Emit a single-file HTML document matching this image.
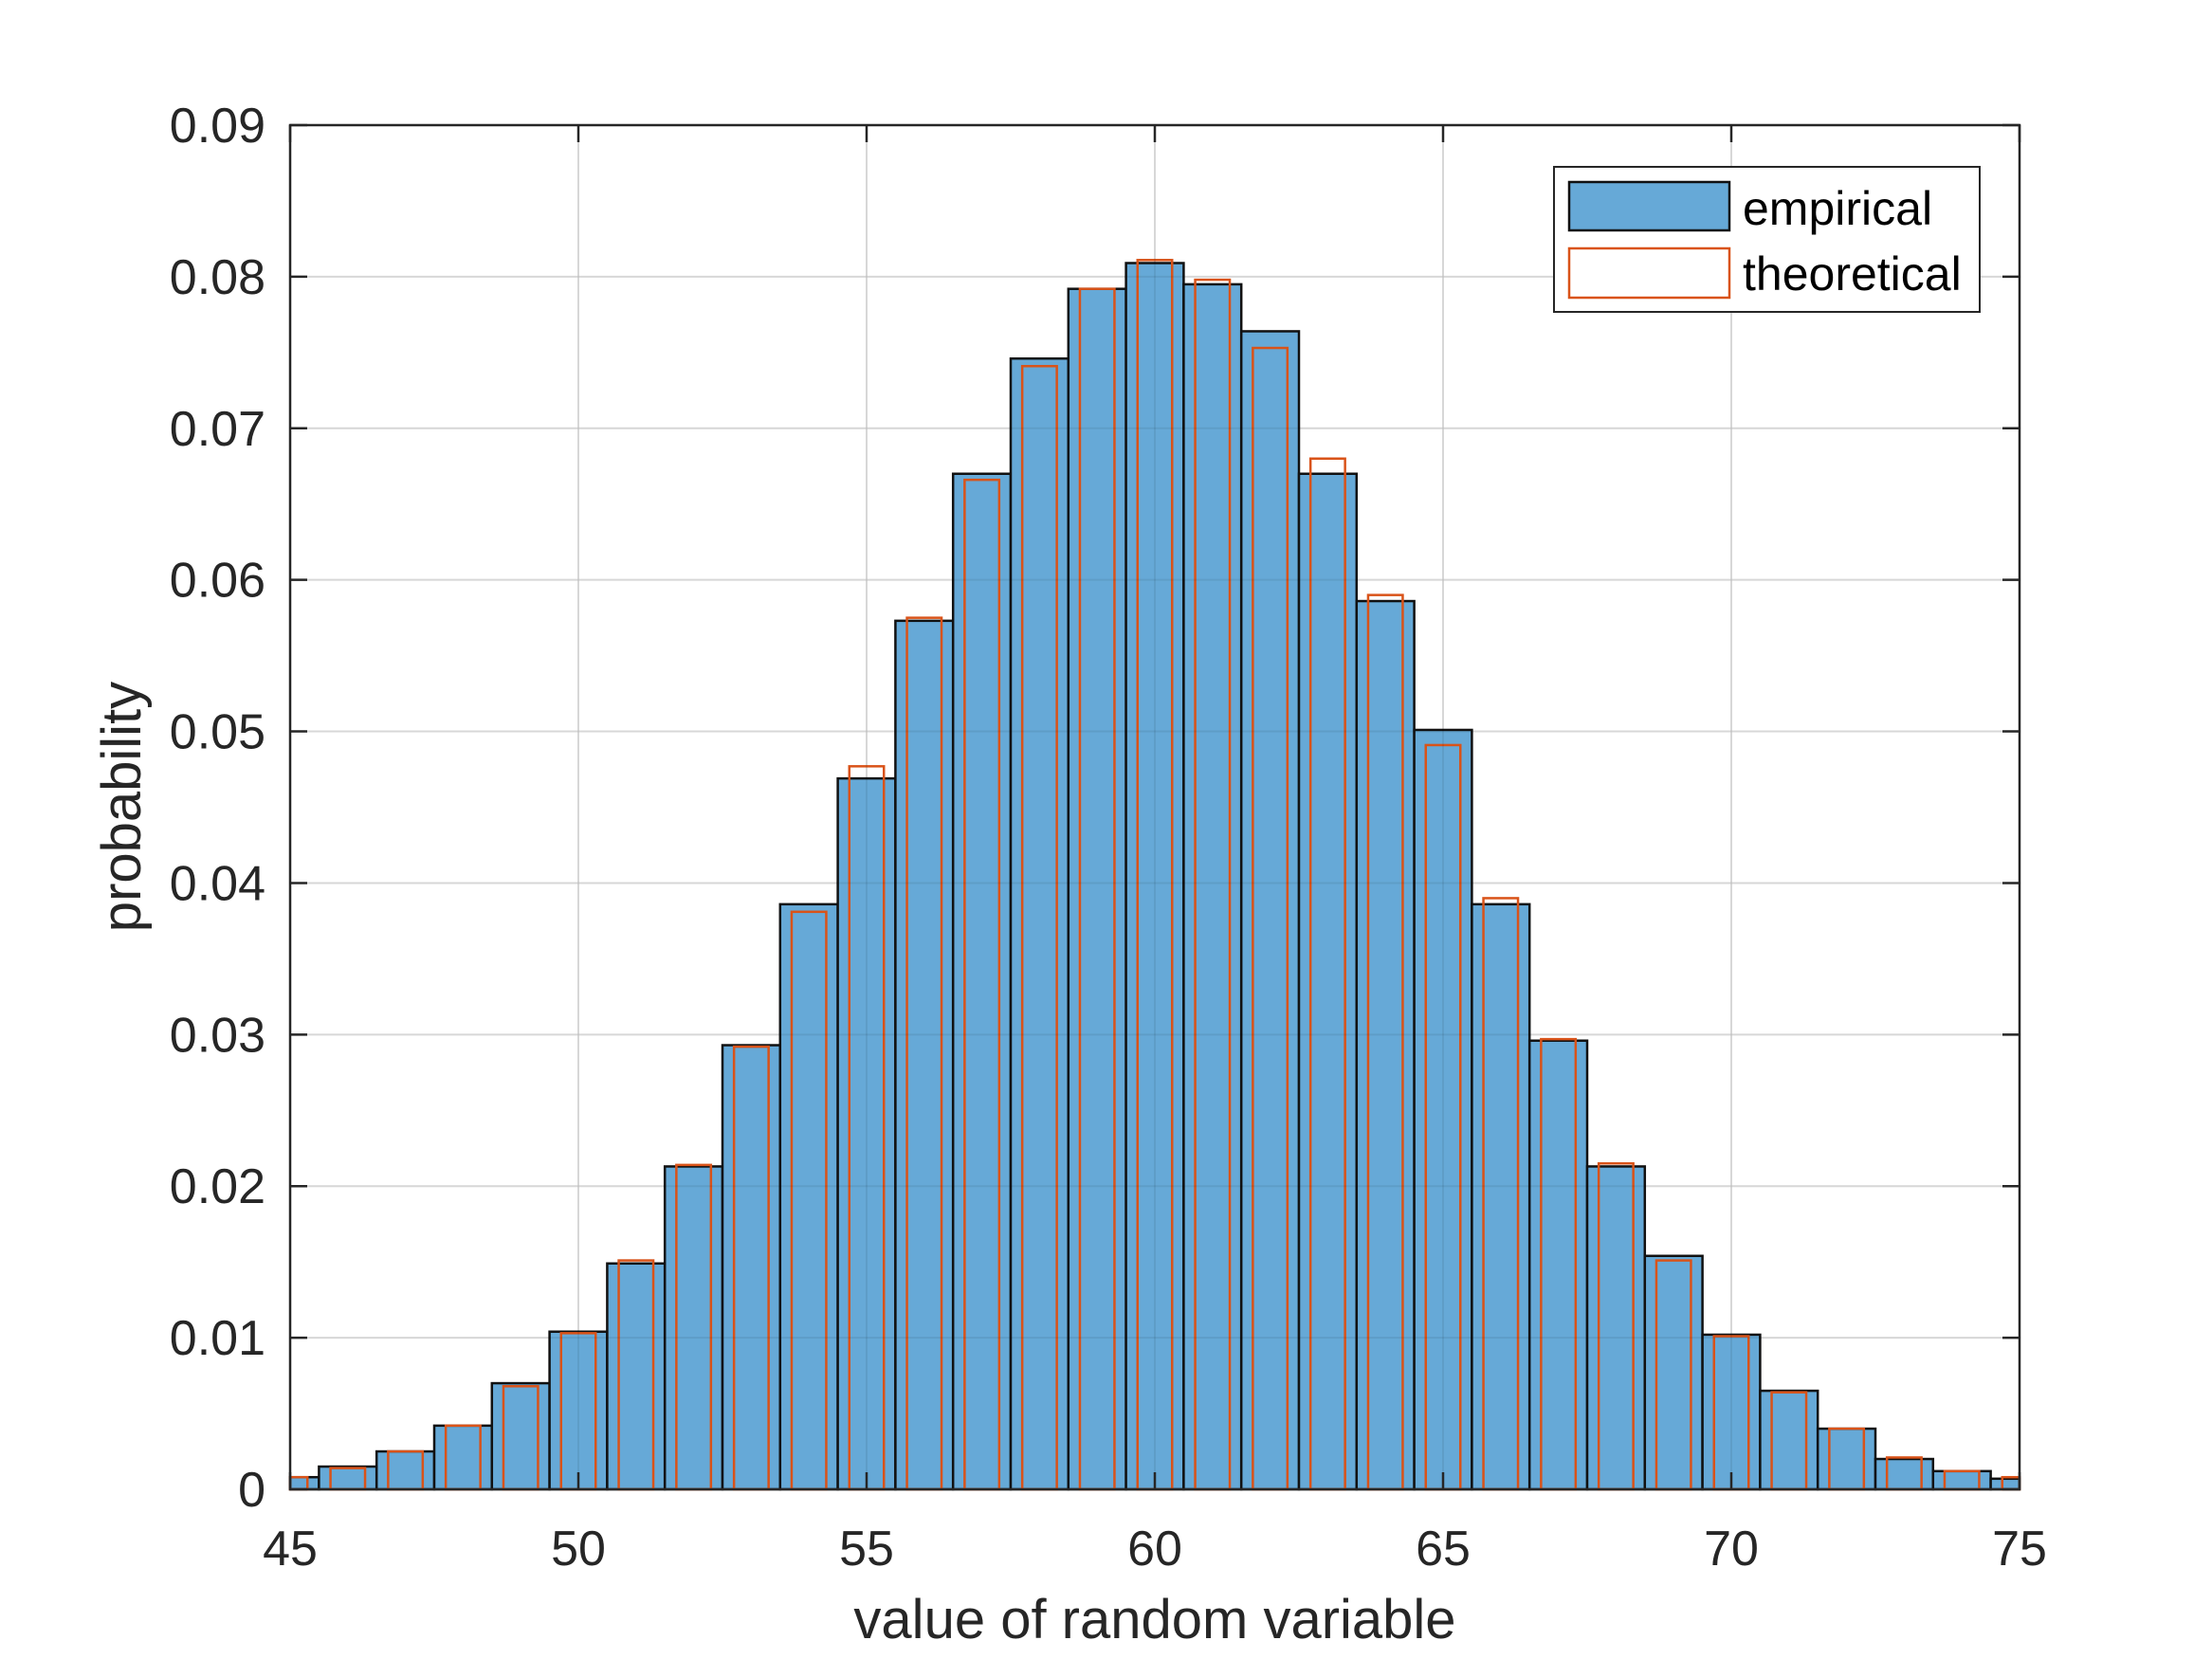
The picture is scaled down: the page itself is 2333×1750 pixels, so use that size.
<!DOCTYPE html>
<html><head><meta charset="utf-8"><style>
html,body{margin:0;padding:0;background:#fff;}
svg{display:block;font-family:"Liberation Sans",Arial,sans-serif;}
</style></head><body>
<svg id="chart" width="2333" height="1750" viewBox="0 0 2333 1750" xmlns="http://www.w3.org/2000/svg">
<rect width="2333" height="1750" fill="#fff"/>
<g id="grid"></g>
<g id="bars"></g>
<g id="theo"></g>
<g id="gridtop"></g>
<g id="axes"></g>
<text x="1218" y="1728" font-size="58" text-anchor="middle" fill="#262626">value of random variable</text>
<text transform="translate(148,851) rotate(-90)" font-size="58" text-anchor="middle" fill="#262626">probability</text>
<g>
<rect x="1639" y="176" width="449" height="153" fill="#fff" stroke="#262626" stroke-width="2"/>
<rect x="1655" y="192" width="169" height="51" fill="#66a9d7" stroke="#111" stroke-width="2.5"/>
<text x="1838" y="237" font-size="50" fill="#000">empirical</text>
<rect x="1655" y="262" width="169" height="52" fill="none" stroke="#d95319" stroke-width="2.5"/>
<text x="1838" y="306" font-size="50" fill="#000">theoretical</text>
</g>
</svg>
<script>
const centers=[45,46,47,48,49,50,51,52,53,54,55,56,57,58,59,60,61,62,63,64,65,66,67,68,69,70,71,72,73,74,75];
const empirical=[0.0008,0.0015,0.0025,0.0042,0.0070,0.0104,0.0149,0.0213,0.0293,0.0386,0.0469,0.0573,0.0670,0.0746,0.0792,0.0809,0.0795,0.0764,0.0670,0.0586,0.0501,0.0386,0.0296,0.0213,0.0154,0.0102,0.0065,0.0040,0.0020,0.0012,0.0007];
const theoretical=[0.0008,0.0014,0.0025,0.0042,0.0068,0.0103,0.0151,0.0214,0.0292,0.0381,0.0477,0.0575,0.0666,0.0741,0.0792,0.0811,0.0798,0.0753,0.0680,0.0590,0.0491,0.0390,0.0297,0.0215,0.0151,0.0101,0.0064,0.0040,0.0021,0.0012,0.0008];
const xTicks=[45,50,55,60,65,70,75];
const yTicks=[0,0.01,0.02,0.03,0.04,0.05,0.06,0.07,0.08,0.09];
const yTickLabels=["0","0.01","0.02","0.03","0.04","0.05","0.06","0.07","0.08","0.09"];
const L=306,R=2130,T=132,B=1571,xmin=45,xmax=75,ymax=0.09;
const sx=v=>L+(v-xmin)/(xmax-xmin)*(R-L);
const sy=v=>B-v/ymax*(B-T);
const NS="http://www.w3.org/2000/svg";
function mk(tag,attrs,parent){const e=document.createElementNS(NS,tag);for(const k in attrs)e.setAttribute(k,attrs[k]);parent.appendChild(e);return e;}
const grid=document.getElementById('grid'),gt=document.getElementById('gridtop');
for(const g of [grid,gt]){
 const op=g===grid?1:0.07;
 const col=g===grid?'#e8e8e8':'#000';
 xTicks.forEach(t=>{const l=mk('line',{x1:sx(t),x2:sx(t),y1:T,y2:B,stroke:col,'stroke-opacity':op,'stroke-width':2},g);});
 yTicks.forEach(t=>{const l=mk('line',{x1:L,x2:R,y1:sy(t),y2:sy(t),stroke:col,'stroke-opacity':op,'stroke-width':2},g);});
}
const bars=document.getElementById('bars');
centers.forEach((c,i)=>{
 const x0=Math.max(sx(c-0.5),L),x1=Math.min(sx(c+0.5),R);
 const r=mk('rect',{x:x0,y:sy(empirical[i]),width:x1-x0,height:B-sy(empirical[i]),fill:'#66a9d7',stroke:'#111','stroke-width':2.5},bars);
 
 
});
const theo=document.getElementById('theo');
centers.forEach((c,i)=>{
 const x0=Math.max(sx(c-0.3),L),x1=Math.min(sx(c+0.3),R);
 const r=mk('rect',{x:x0,y:sy(theoretical[i]),width:x1-x0,height:B-sy(theoretical[i]),fill:'none',stroke:'#d95319','stroke-width':2.5},theo);
 
 
});
const ax=document.getElementById('axes');
mk('rect',{x:L,y:T,width:R-L,height:B-T,fill:'none',stroke:'#262626','stroke-width':2.5},ax);
xTicks.forEach(t=>{
 mk('line',{x1:sx(t),x2:sx(t),y1:B,y2:B-18,stroke:'#262626','stroke-width':2.5},ax);
 mk('line',{x1:sx(t),x2:sx(t),y1:T,y2:T+18,stroke:'#262626','stroke-width':2.5},ax);
 const tx=mk('text',{x:sx(t),y:B+80,'font-size':52,'text-anchor':'middle',fill:'#262626'},ax);
 tx.textContent=t;
 
 
});
yTicks.forEach((t,i)=>{
 mk('line',{x1:L,x2:L+18,y1:sy(t),y2:sy(t),stroke:'#262626','stroke-width':2.5},ax);
 mk('line',{x1:R,x2:R-18,y1:sy(t),y2:sy(t),stroke:'#262626','stroke-width':2.5},ax);
 const tx=mk('text',{x:L-26,y:sy(t)+18,'font-size':52,'text-anchor':'end',fill:'#262626'},ax);
 tx.textContent=yTickLabels[i];
 
 
});
</script>
</body></html>
